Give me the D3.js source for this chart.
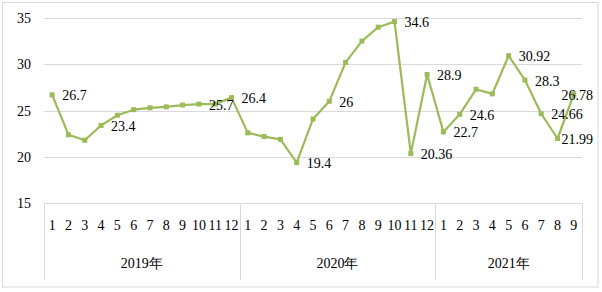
<!DOCTYPE html>
<html><head><meta charset="utf-8">
<script src="https://cdn.jsdelivr.net/npm/d3@7"></script>
<style>body{margin:0;background:#fff}svg{display:block}</style>
</head><body>
<script>
const years = ["2019年", "2020年", "2021年"];
const monthsPerYear = [12, 12, 9];
const values = [
  26.7, 22.4, 21.8, 23.4, 24.5, 25.1, 25.3, 25.4, 25.6, 25.7, 25.7, 26.4,
  22.6, 22.2, 21.9, 19.4, 24.1, 26, 30.2, 32.5, 34.0, 34.6, 20.36, 28.9,
  22.7, 24.6, 27.3, 26.8, 30.92, 28.3, 24.66, 21.99, 26.78
];
const labels = [
  "26.7", null, null, "23.4", null, null, null, null, null, "25.7", null, "26.4",
  null, null, null, "19.4", null, "26", null, null, null, "34.6", "20.36", "28.9",
  "22.7", "24.6", null, null, "30.92", "28.3", "24.66", "21.99", "26.78"
];
const yTicks = [15, 20, 25, 30, 35];

(function () {
const W = 602, H = 292;
const FONT = "Liberation Serif";
const lineColor = "#9bbb59";
const gridColor = "#d9d9d9";

const svg = d3.select("body").append("svg").attr("width", W).attr("height", H);

svg.append("rect").attr("x", 2.5).attr("y", 2.5).attr("width", 595.5).attr("height", 284.5)
  .attr("fill", "#fff").attr("stroke", gridColor).attr("stroke-width", 1);

const data = [];
years.forEach((yr, yi) => {
  for (let m = 1; m <= monthsPerYear[yi]; m++) data.push({year: yr, month: m});
});
data.forEach((d, i) => { d.value = values[i]; d.label = labels[i]; d.i = i; });

const mLeft = 44, mRight = 582, mTop = 17.9, mBottom = 203.3;
const x = d3.scaleBand().domain(d3.range(data.length)).range([mLeft, mRight]).padding(0);
const y = d3.scaleLinear().domain([15, 35]).range([mBottom, mTop]);

// gridlines
svg.append("g").selectAll("line").data(yTicks.filter(t => t > 15)).join("line")
  .attr("x1", mLeft).attr("x2", mRight)
  .attr("y1", d => Math.round(y(d)) + 0.5).attr("y2", d => Math.round(y(d)) + 0.5)
  .attr("stroke", gridColor).attr("stroke-width", 1);

// y-axis labels
const yAxis = d3.axisLeft(y).tickValues(yTicks).tickSize(0).tickPadding(0);
const ya = svg.append("g").attr("transform", `translate(31,0)`).call(yAxis)
  .attr("font-family", FONT).attr("font-size", 14);
ya.select(".domain").remove();
ya.selectAll("text").attr("fill", "#000");

// category box
const axisBottom = 280;
svg.append("line").attr("x1", mLeft).attr("x2", mRight).attr("y1", Math.round(mBottom) + 0.5).attr("y2", Math.round(mBottom) + 0.5)
  .attr("stroke", gridColor);
let cum = 0;
const bounds = [0];
monthsPerYear.forEach(n => { cum += n; bounds.push(cum); });
const bx = b => (b === data.length ? mRight : x(b));
svg.append("g").selectAll("line").data(bounds).join("line")
  .attr("x1", d => Math.round(bx(d)) + 0.5)
  .attr("x2", d => Math.round(bx(d)) + 0.5)
  .attr("y1", mBottom).attr("y2", axisBottom)
  .attr("stroke", gridColor);

// month labels
const xa = svg.append("g").attr("transform", `translate(0,${mBottom})`)
  .call(d3.axisBottom(x).tickSize(0).tickPadding(0).tickFormat(i => data[i].month))
  .attr("font-family", FONT).attr("font-size", 14);
xa.select(".domain").remove();
xa.selectAll("text").attr("fill", "#000")
  .attr("dy", null).attr("y", 22).attr("dominant-baseline", "central");

// year labels
svg.append("g").attr("font-family", FONT).attr("font-size", 14)
  .selectAll("text").data(years).join("text")
  .attr("x", (d, i) => (bx(bounds[i]) + bx(bounds[i + 1])) / 2)
  .attr("y", 263).attr("text-anchor", "middle").attr("dominant-baseline", "central")
  .attr("fill", "#000")
  .text(d => d);

// line
const cx = i => x(i) + x.bandwidth() / 2;
svg.append("path").datum(data)
  .attr("d", d3.line().x(d => cx(d.i)).y(d => y(d.value)))
  .attr("fill", "none").attr("stroke", lineColor).attr("stroke-width", 2.2)
  .attr("stroke-linejoin", "round");

svg.append("g").selectAll("rect").data(data).join("rect")
  .attr("x", d => cx(d.i) - 2.5).attr("y", d => y(d.value) - 2.5)
  .attr("width", 5).attr("height", 5).attr("fill", lineColor);

// data labels
const lbl = svg.append("g").attr("font-family", FONT).attr("font-size", 14)
  .selectAll("text").data(data.filter(d => d.label)).join("text")
  .attr("fill", "#000")
  .attr("dominant-baseline", "central")
  .attr("y", d => y(d.value) + 1)
  .text(d => d.label);
lbl.attr("x", function(d) {
  const w = this.getComputedTextLength();
  return Math.min(cx(d.i) + 10, 593 - w);
});
})();
</script>
</body></html>
